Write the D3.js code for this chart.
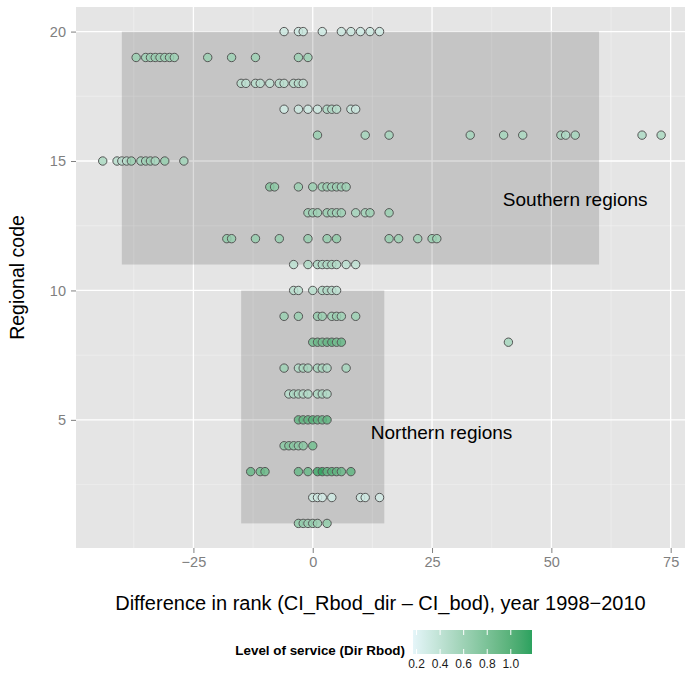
<!DOCTYPE html>
<html>
<head>
<meta charset="utf-8">
<script src="https://cdn.jsdelivr.net/npm/d3@7"></script>
<style>
  body { margin: 0; background: #fff; }
  text { font-family: "Liberation Sans", Arial, sans-serif; }
</style>
</head>
<body>
<svg id="chart" width="685" height="676"></svg>
<script>
// regional codes, one row of points per region
const regionCodes = [20, 19, 18, 17, 16, 15, 14, 13, 12, 11, 10, 9, 8, 7, 6, 5, 4, 3, 2, 1];

// rank differences (CI_Rbod_dir - CI_bod) per region
const rankDiffs = [
  [-6, -3, -2, 2, 6, 8, 10, 12, 14],
  [-37, -35, -34, -33, -32, -31, -30, -29, -22, -17, -12, -3, -1],
  [-15, -14, -12, -11, -9, -7, -6, -4, -3, -2],
  [-6, -3, -1, 1, 3, 4, 5, 8, 9],
  [1, 11, 16, 33, 40, 44, 52, 53, 55, 69, 73],
  [-44, -41, -40, -39, -38, -36, -35, -34, -33, -31, -27],
  [-9, -8, -3, 0, 2, 3, 4, 5, 6, 7],
  [-1, 0, 1, 3, 4, 5, 6, 9, 11, 12, 16],
  [-18, -17, -12, -7, -1, 3, 5, 16, 18, 22, 25, 26],
  [-4, -1, 1, 2, 3, 4, 5, 7, 9],
  [-4, -3, 0, 2, 3, 4, 5],
  [-6, -3, 1, 2, 4, 5, 6, 9],
  [0, 1, 2, 3, 4, 5, 6, 41],
  [-6, -3, -2, -1, 1, 2, 3, 7],
  [-5, -4, -3, -2, -1, 1, 2, 3],
  [-3, -2, -1, 0, 1, 2, 3],
  [-6, -5, -4, -3, -2, 0],
  [-13, -11, -10, -3, -1, 1, 2, 3, 4, 5, 6, 8],
  [0, 1, 2, 4, 10, 11, 14],
  [-3, -2, -1, 0, 1, 3]
];

// level of service (Dir Rbod) per point
const serviceLevels = [
  [0.32, 0.3, 0.34, 0.3, 0.32, 0.33, 0.3, 0.32, 0.3],
  [0.62, 0.6, 0.6, 0.62, 0.6, 0.6, 0.62, 0.6, 0.62, 0.6, 0.6, 0.6, 0.6],
  [0.45, 0.42, 0.45, 0.42, 0.4, 0.45, 0.42, 0.44, 0.45, 0.42],
  [0.3, 0.32, 0.3, 0.32, 0.5, 0.48, 0.45, 0.35, 0.33],
  [0.62, 0.55, 0.55, 0.55, 0.55, 0.52, 0.55, 0.5, 0.55, 0.5, 0.52],
  [0.52, 0.45, 0.4, 0.45, 0.62, 0.55, 0.58, 0.6, 0.55, 0.65, 0.58],
  [0.75, 0.7, 0.62, 0.62, 0.6, 0.6, 0.58, 0.6, 0.58, 0.6],
  [0.6, 0.58, 0.6, 0.62, 0.6, 0.58, 0.6, 0.55, 0.58, 0.6, 0.62],
  [0.68, 0.65, 0.65, 0.65, 0.65, 0.65, 0.68, 0.65, 0.62, 0.6, 0.65, 0.6],
  [0.42, 0.5, 0.5, 0.48, 0.5, 0.52, 0.48, 0.42, 0.4],
  [0.45, 0.42, 0.45, 0.48, 0.48, 0.45, 0.42],
  [0.62, 0.62, 0.65, 0.62, 0.6, 0.62, 0.6, 0.6],
  [0.85, 0.88, 0.85, 0.9, 0.95, 0.85, 0.9, 0.55],
  [0.6, 0.5, 0.52, 0.55, 0.55, 0.52, 0.5, 0.55],
  [0.45, 0.5, 0.52, 0.45, 0.48, 0.52, 0.5, 0.48],
  [0.95, 0.92, 0.95, 1.0, 0.95, 0.9, 0.95],
  [0.72, 0.75, 0.72, 0.7, 0.72, 0.85],
  [0.9, 0.85, 0.88, 0.9, 0.9, 1.1, 1.15, 0.95, 1.0, 0.95, 0.9, 0.95],
  [0.32, 0.3, 0.28, 0.3, 0.3, 0.3, 0.28],
  [0.68, 0.65, 0.62, 0.65, 0.62, 0.68]
];

const regionBoxes = [
  { label: "Southern regions", x0: -40, x1: 60, y0: 11, y1: 20, lx: 55, ly: 13.5 },
  { label: "Northern regions", x0: -15, x1: 15, y0: 1, y1: 10, lx: 27, ly: 4.5 }
];

const xTicks = [-25, 0, 25, 50, 75];
const yTicks = [5, 10, 15, 20];
const legendTicks = [0.2, 0.4, 0.6, 0.8, 1.0];

const points = regionCodes.flatMap((code, i) =>
  rankDiffs[i].map((d, j) => ({ code, diff: d, service: serviceLevels[i][j] })));

const svg = d3.select("#chart");
const panel = { left: 76, right: 685, top: 7, bottom: 548 };

const x = d3.scaleLinear().domain([-49.6, 78]).range([panel.left, panel.right]);
const y = d3.scaleLinear().domain([0.05, 20.95]).range([panel.bottom, panel.top]);
const color = d3.scaleLinear().domain([0.17, 1.18])
  .range(["#e5f5f9", "#2ca25f"]).interpolate(d3.interpolateLab);

// panel background
svg.append("rect")
  .attr("x", panel.left).attr("y", panel.top)
  .attr("width", panel.right - panel.left).attr("height", panel.bottom - panel.top)
  .attr("fill", "#e5e5e5");

const g = svg.append("g");
const xMinor = [-37.5, -12.5, 12.5, 37.5, 62.5];
const yMinor = [2.5, 7.5, 12.5, 17.5];

g.selectAll(".xminor").data(xMinor).join("line")
  .attr("x1", d => x(d)).attr("x2", d => x(d))
  .attr("y1", panel.top).attr("y2", panel.bottom)
  .attr("stroke", "#f2f2f2").attr("stroke-width", 0.6);
g.selectAll(".yminor").data(yMinor).join("line")
  .attr("y1", d => y(d)).attr("y2", d => y(d))
  .attr("x1", panel.left).attr("x2", panel.right)
  .attr("stroke", "#f2f2f2").attr("stroke-width", 0.6);
g.selectAll(".xmajor").data(xTicks).join("line")
  .attr("x1", d => x(d)).attr("x2", d => x(d))
  .attr("y1", panel.top).attr("y2", panel.bottom)
  .attr("stroke", "#fff").attr("stroke-width", 1.3);
g.selectAll(".ymajor").data(yTicks).join("line")
  .attr("y1", d => y(d)).attr("y2", d => y(d))
  .attr("x1", panel.left).attr("x2", panel.right)
  .attr("stroke", "#fff").attr("stroke-width", 1.3);

// shaded region boxes
svg.selectAll(".box").data(regionBoxes).join("rect")
  .attr("x", d => x(d.x0)).attr("y", d => y(d.y1))
  .attr("width", d => x(d.x1) - x(d.x0)).attr("height", d => y(d.y0) - y(d.y1))
  .attr("fill", "#000").attr("fill-opacity", 0.137);

svg.selectAll(".box-label").data(regionBoxes).join("text")
  .attr("x", d => x(d.lx)).attr("y", d => y(d.ly))
  .attr("text-anchor", "middle").attr("dy", "0.35em")
  .attr("font-size", 19).attr("fill", "#000")
  .text(d => d.label);

// points
svg.selectAll(".pt").data(points).join("circle")
  .attr("cx", d => x(d.diff)).attr("cy", d => y(d.code))
  .attr("r", 4.2)
  .attr("fill", d => color(d.service))
  .attr("fill-opacity", 0.85)
  .attr("stroke", "#555").attr("stroke-width", 1);

// axes
const xAxis = svg.append("g").attr("transform", `translate(0,${panel.bottom})`)
  .call(d3.axisBottom(x).tickValues(xTicks).tickSize(5).tickPadding(4)
    .tickFormat(d => d3.format("d")(d).replace("-", "\u2212")));
const yAxis = svg.append("g").attr("transform", `translate(${panel.left},0)`)
  .call(d3.axisLeft(y).tickValues(yTicks).tickSize(5).tickPadding(5));
[xAxis, yAxis].forEach(a => {
  a.select(".domain").remove();
  a.selectAll(".tick line").attr("stroke", "#7f7f7f");
  a.selectAll(".tick text").attr("fill", "#7f7f7f").attr("font-size", 14.5)
    .attr("font-family", "Liberation Sans, Arial, sans-serif");
});

svg.append("text")
  .attr("x", (panel.left + panel.right) / 2).attr("y", 610)
  .attr("text-anchor", "middle").attr("font-size", 20)
  .text("Difference in rank (CI_Rbod_dir \u2013 CI_bod), year 1998\u22122010");

svg.append("text")
  .attr("transform", `translate(24,${(panel.top + panel.bottom) / 2}) rotate(-90)`)
  .attr("text-anchor", "middle").attr("font-size", 19.5)
  .text("Regional code");

// colour legend
const lx = d3.scaleLinear().domain([0.17, 1.18]).range([413, 532]);
const defs = svg.append("defs");
const grad = defs.append("linearGradient").attr("id", "svc-grad");
d3.range(0, 1.001, 0.1).forEach(t => {
  grad.append("stop").attr("offset", t)
    .attr("stop-color", color(0.17 + t * (1.18 - 0.17)));
});
const legend = svg.append("g");
legend.append("rect")
  .attr("x", lx.range()[0]).attr("y", 630)
  .attr("width", lx.range()[1] - lx.range()[0]).attr("height", 24)
  .attr("fill", "url(#svc-grad)");
legendTicks.forEach(t => {
  legend.append("line").attr("x1", lx(t)).attr("x2", lx(t)).attr("y1", 630).attr("y2", 635)
    .attr("stroke", "#fff").attr("stroke-width", 1);
  legend.append("line").attr("x1", lx(t)).attr("x2", lx(t)).attr("y1", 649).attr("y2", 654)
    .attr("stroke", "#fff").attr("stroke-width", 1);
});
legend.selectAll(".lt").data(legendTicks).join("text")
  .attr("x", d => lx(d)).attr("y", 668)
  .attr("text-anchor", "middle").attr("font-size", 12).attr("fill", "#1a1a1a")
  .text(d => d.toFixed(1));
legend.append("text")
  .attr("x", 405).attr("y", 655)
  .attr("text-anchor", "end").attr("font-size", 13.4).attr("font-weight", "bold")
  .text("Level of service (Dir Rbod)");
</script>
</body>
</html>
